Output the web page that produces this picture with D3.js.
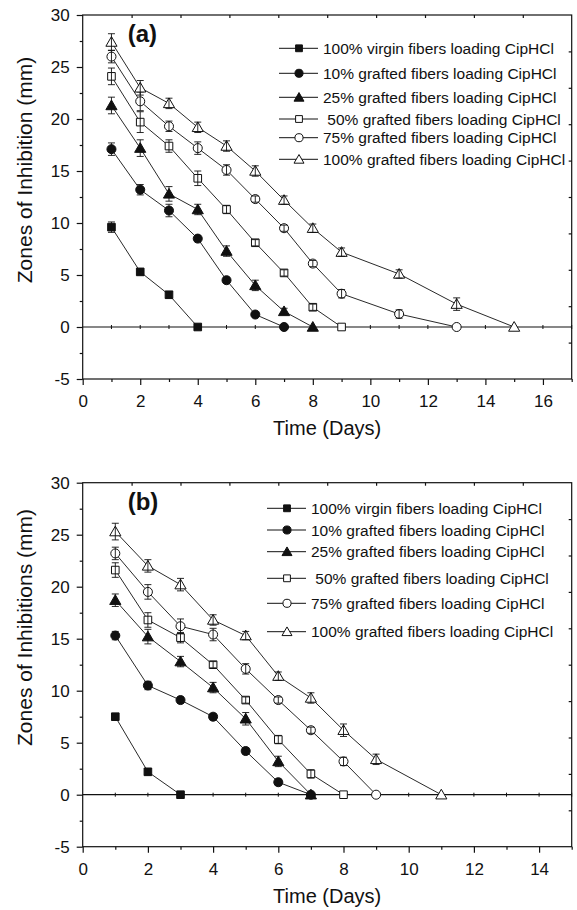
<!DOCTYPE html>
<html>
<head>
<meta charset="utf-8">
<script src="https://cdn.jsdelivr.net/npm/d3@7"></script>
<style>
body { margin: 0; background: #fff; }
svg text { font-family: "Liberation Sans", Arial, sans-serif; fill: #111; }
</style>
</head>
<body>
<svg id="chart" width="577" height="910"></svg>
<script>
// legend labels and marker styles, same order in both panels
var seriesNames = [
  "100% virgin fibers loading CipHCl",
  "10% grafted fibers loading CipHCl",
  "25% grafted fibers loading CipHCl",
  " 50% grafted fibers loading CipHCl",
  "75% grafted fibers loading CipHCl",
  "100% grafted fibers loading CipHCl"
]
var seriesSymbols = ["square", "circle", "triangle", "square", "circle", "triangle"]
var seriesFilled = [true, true, true, false, false, false]

// panel (a)
var daysA = [
  [1, 2, 3, 4],
  [1, 2, 3, 4, 5, 6, 7],
  [1, 2, 3, 4, 5, 6, 7, 8],
  [1, 2, 3, 4, 5, 6, 7, 8, 9],
  [1, 2, 3, 4, 5, 6, 7, 8, 9, 11, 13],
  [1, 2, 3, 4, 5, 6, 7, 8, 9, 11, 13, 15]
]
var zonesA = [
  [9.6, 5.3, 3.1, 0],
  [17.1, 13.2, 11.2, 8.5, 4.5, 1.2, 0],
  [21.3, 17.2, 12.8, 11.3, 7.3, 4.0, 1.5, 0],
  [24.1, 19.7, 17.4, 14.3, 11.3, 8.1, 5.2, 1.9, 0],
  [26.0, 21.7, 19.3, 17.2, 15.1, 12.3, 9.5, 6.1, 3.2, 1.25, 0],
  [27.4, 23.0, 21.5, 19.2, 17.4, 15.0, 12.2, 9.5, 7.2, 5.1, 2.2, 0]
]
var errA = [
  [0.5, 0.3, 0.3, 0],
  [0.6, 0.5, 0.6, 0.3, 0.3, 0.2, 0],
  [0.8, 0.8, 0.7, 0.5, 0.5, 0.5, 0.3, 0],
  [0.8, 1.0, 0.6, 0.7, 0.4, 0.3, 0.3, 0.3, 0],
  [0.6, 0.9, 0.5, 0.6, 0.5, 0.3, 0.3, 0.3, 0.4, 0.4, 0],
  [0.8, 0.7, 0.5, 0.5, 0.5, 0.5, 0.4, 0.4, 0.4, 0.4, 0.6, 0]
]

// panel (b)
var daysB = [
  [1, 2, 3],
  [1, 2, 3, 4, 5, 6, 7],
  [1, 2, 3, 4, 5, 6, 7],
  [1, 2, 3, 4, 5, 6, 7, 8],
  [1, 2, 3, 4, 5, 6, 7, 8, 9],
  [1, 2, 3, 4, 5, 6, 7, 8, 9, 11]
]
var zonesB = [
  [7.5, 2.2, 0],
  [15.3, 10.5, 9.1, 7.5, 4.2, 1.2, 0],
  [18.7, 15.2, 12.8, 10.3, 7.3, 3.2, 0],
  [21.6, 16.8, 15.1, 12.5, 9.1, 5.3, 2.0, 0],
  [23.2, 19.5, 16.2, 15.4, 12.1, 9.1, 6.2, 3.2, 0],
  [25.3, 22.0, 20.2, 16.8, 15.3, 11.4, 9.3, 6.2, 3.4, 0]
]
var errB = [
  [0.3, 0.3, 0],
  [0.4, 0.4, 0.3, 0.3, 0.3, 0.3, 0],
  [0.6, 0.7, 0.5, 0.5, 0.6, 0.5, 0],
  [0.7, 0.7, 0.5, 0.3, 0.3, 0.4, 0.4, 0],
  [0.6, 0.7, 0.7, 0.6, 0.5, 0.3, 0.3, 0.4, 0],
  [0.8, 0.6, 0.6, 0.5, 0.4, 0.4, 0.5, 0.6, 0.5, 0]
]

var yTicks = [-5, 0, 5, 10, 15, 20, 25, 30]

var SVG = d3.select("#chart")

var symbolTypes = {
  square: d3.symbolSquare,
  circle: d3.symbolCircle,
  triangle: d3.symbolTriangle
}
var symbolSizes = { square: 58, circle: 64, triangle: 54 }

// plain hyphen for negatives, like the original
function plain(v) { return String(v) }

function drawPanel(p) {
  var x = d3.scaleLinear().domain([0, p.xMax]).range([p.left, p.right])
  var y = d3.scaleLinear().domain([-5, 30]).range([p.bottom, p.top])
  var g = SVG.append("g")

  // frame
  g.append("rect")
    .attr("x", p.left).attr("y", p.top)
    .attr("width", p.right - p.left).attr("height", p.bottom - p.top)
    .attr("fill", "none").attr("stroke", "#111").attr("stroke-width", 1.2)

  function styleAxis(sel) {
    sel.select(".domain").remove()
    sel.selectAll("line").attr("stroke", "#111").attr("stroke-width", 1.2)
    sel.selectAll("text").attr("fill", "#111").style("font-size", "17px")
      .attr("font-family", null)
  }

  // left axis, major + minor
  g.append("g").attr("transform", "translate(" + p.left + ",0)")
    .call(d3.axisLeft(y).tickValues(yTicks).tickSize(6).tickPadding(7).tickFormat(plain))
    .call(styleAxis)
  g.append("g").attr("transform", "translate(" + p.left + ",0)")
    .call(d3.axisLeft(y).tickValues(yTicks.slice(0, -1).map(function(v) { return v + 2.5 }))
      .tickSize(3).tickFormat(""))
    .call(styleAxis)

  // bottom axis, even majors + odd minors
  var evens = d3.range(0, p.xMax + 0.01, 2)
  var odds = d3.range(1, p.xMax + 0.01, 2)
  g.append("g").attr("transform", "translate(0," + p.bottom + ")")
    .call(d3.axisBottom(x).tickValues(evens).tickSize(6).tickPadding(10).tickFormat(plain))
    .call(styleAxis)
  g.append("g").attr("transform", "translate(0," + p.bottom + ")")
    .call(d3.axisBottom(x).tickValues(odds).tickSize(3).tickFormat(""))
    .call(styleAxis)

  // top and right axes: 10 inward divisions, no labels
  g.append("g").attr("transform", "translate(0," + p.top + ")")
    .call(d3.axisTop(x).tickValues(d3.range(1, 10).map(function(i) { return i * p.xMax / 10 }))
      .tickSize(-3).tickFormat(""))
    .call(styleAxis)
  g.append("g").attr("transform", "translate(" + p.right + ",0)")
    .call(d3.axisRight(y).tickValues(d3.range(1, 10).map(function(i) { return -5 + i * 3.5 }))
      .tickSize(-3).tickFormat(""))
    .call(styleAxis)

  // zero line with small crossing ticks at every day
  g.append("line")
    .attr("x1", p.left).attr("x2", p.right)
    .attr("y1", y(0)).attr("y2", y(0))
    .attr("stroke", "#111").attr("stroke-width", 1.2)
  g.selectAll(".zeroTick")
    .data(d3.range(1, Math.floor(p.xMax) + 1))
    .enter().append("line")
    .attr("class", "zeroTick")
    .attr("x1", function(d) { return x(d) }).attr("x2", function(d) { return x(d) })
    .attr("y1", y(0) - 2).attr("y2", y(0) + 2)
    .attr("stroke", "#111").attr("stroke-width", 1)

  // series
  p.days.forEach(function(days, s) {
    var pts = days.map(function(d, i) {
      return { x: d, y: p.zones[s][i], e: p.err[s][i] }
    })
    var type = seriesSymbols[s]
    var filled = seriesFilled[s]

    g.append("path")
      .datum(pts)
      .attr("fill", "none")
      .attr("stroke", "#111")
      .attr("stroke-width", 0.9)
      .attr("d", d3.line().x(function(d) { return x(d.x) }).y(function(d) { return y(d.y) }))

    g.selectAll(".m" + s)
      .data(pts)
      .enter().append("path")
      .attr("class", "m" + s)
      .attr("transform", function(d) {
        var dy = type == "triangle" ? 1 : 0
        return "translate(" + x(d.x) + "," + (y(d.y) + dy) + ")"
      })
      .attr("d", d3.symbol().type(symbolTypes[type]).size(symbolSizes[type]))
      .attr("fill", filled ? "#111" : "#fff")
      .attr("stroke", "#111")
      .attr("stroke-width", 1)

    // error bars drawn over the markers
    var eb = g.selectAll(".e" + s)
      .data(pts.filter(function(d) { return d.e > 0 }))
      .enter().append("g")
      .attr("class", "e" + s)
      .attr("stroke", "#111")
      .attr("stroke-width", 0.9)
    eb.append("line")
      .attr("x1", function(d) { return x(d.x) }).attr("x2", function(d) { return x(d.x) })
      .attr("y1", function(d) { return y(d.y - d.e) }).attr("y2", function(d) { return y(d.y + d.e) })
    eb.append("line")
      .attr("x1", function(d) { return x(d.x) - 3.5 }).attr("x2", function(d) { return x(d.x) + 3.5 })
      .attr("y1", function(d) { return y(d.y + d.e) }).attr("y2", function(d) { return y(d.y + d.e) })
    eb.append("line")
      .attr("x1", function(d) { return x(d.x) - 3.5 }).attr("x2", function(d) { return x(d.x) + 3.5 })
      .attr("y1", function(d) { return y(d.y - d.e) }).attr("y2", function(d) { return y(d.y - d.e) })
  })

  // legend
  var leg = g.selectAll(".leg")
    .data(seriesNames)
    .enter().append("g")
    .attr("class", "leg")
    .attr("transform", function(d, i) { return "translate(0," + p.legendY[i] + ")" })
  leg.append("line")
    .attr("x1", p.legendX).attr("x2", p.legendX + 39)
    .attr("stroke", "#111").attr("stroke-width", 1)
  leg.append("path")
    .attr("transform", function(d, i) {
      return "translate(" + (p.legendX + 20) + "," + (seriesSymbols[i] == "triangle" ? 1 : 0) + ")"
    })
    .attr("d", function(d, i) {
      var t = seriesSymbols[i]
      return d3.symbol().type(symbolTypes[t]).size(symbolSizes[t] * 0.8)()
    })
    .attr("fill", function(d, i) { return seriesFilled[i] ? "#111" : "#fff" })
    .attr("stroke", "#111")
  leg.append("text")
    .attr("x", p.legendX + 44)
    .attr("dy", "0.36em")
    .style("font-size", "15.5px")
    .style("white-space", "pre")
    .text(function(d) { return d })

  // titles
  g.append("text")
    .attr("x", (p.left + p.right) / 2).attr("y", p.bottom + 56)
    .attr("text-anchor", "middle")
    .style("font-size", "20px")
    .text("Time (Days)")
  g.append("text")
    .attr("transform", "translate(31.5," + p.yTitleMid + ") rotate(-90)")
    .attr("text-anchor", "middle")
    .style("font-size", "21px")
    .text(p.yTitle)
  g.append("text")
    .attr("x", p.left + 45).attr("y", p.top + 27)
    .style("font-size", "24px").style("font-weight", "bold")
    .text(p.tag)
}

drawPanel({
  left: 82.7, right: 571.7, top: 15, bottom: 379, xMax: 17,
  days: daysA, zones: zonesA, err: errA,
  legendX: 279, legendY: [48.3, 73.3, 97.3, 119, 137.7, 159.3],
  yTitle: "Zones of Inhibition (mm)", yTitleMid: 170, tag: "(a)"
})
drawPanel({
  left: 82.7, right: 571.7, top: 482.7, bottom: 846.7, xMax: 15,
  days: daysB, zones: zonesB, err: errB,
  legendX: 267, legendY: [508.3, 530, 551.7, 578.3, 603.3, 631.7],
  yTitle: "Zones of Inhibitions (mm)", yTitleMid: 627.5, tag: "(b)"
})
</script>
</body>
</html>
